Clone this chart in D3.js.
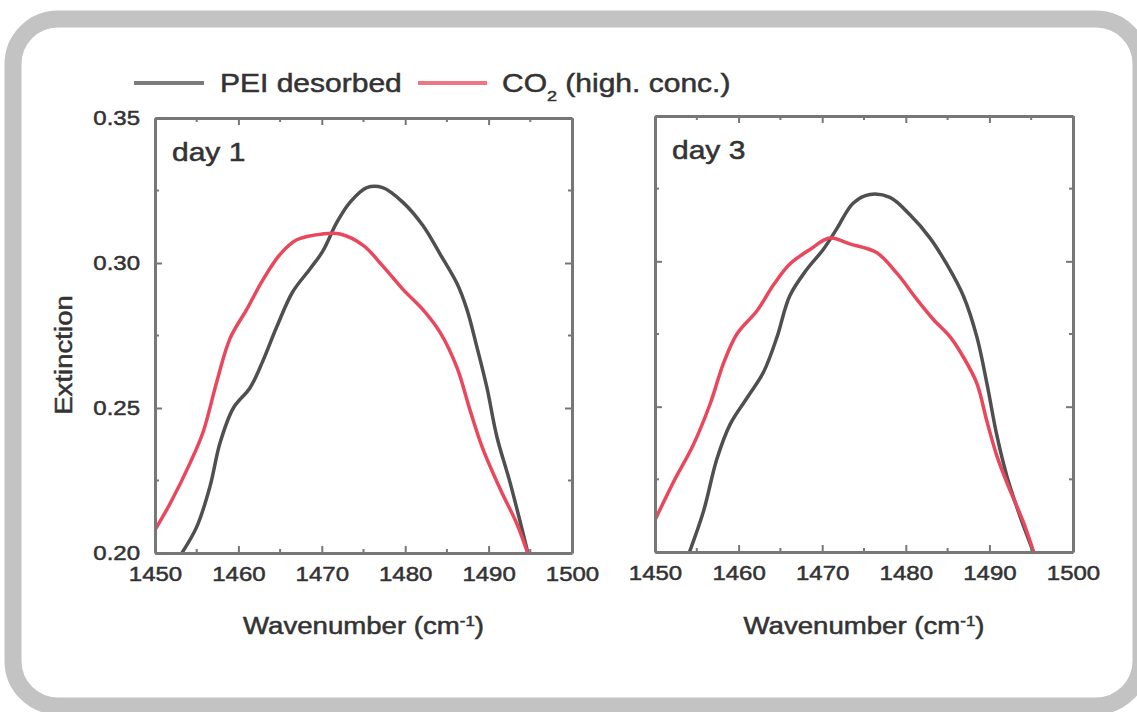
<!DOCTYPE html>
<html>
<head>
<meta charset="utf-8">
<script src="https://cdn.jsdelivr.net/npm/d3@7"></script>
<style>
  body { margin: 0; background: #fff; }
  text { font-family: "Liberation Sans", Arial, sans-serif; fill: #333; stroke: #333; stroke-width: 0.5px; }
</style>
</head>
<body>
<div class="chart"></div>
<script>
// chart size
const WIDTH = 1137;
const HEIGHT = 712;

// data
const X_TICKS = [1450, 1460, 1470, 1480, 1490, 1500];
const Y_TICKS = [0.20, 0.25, 0.30, 0.35];
const PANEL_LABELS = ["day 1", "day 3"];
const SERIES_NAMES = ["PEI desorbed", "CO2 (high. conc.)"];

const DAY1_PEI_WN = [1453.0, 1455.0, 1456.6, 1457.8, 1459.4, 1461.4, 1462.9, 1464.6, 1466.5, 1468.6, 1470.1, 1471.8, 1473.4, 1475.4, 1477.3, 1479.7, 1482.1, 1484.2, 1486.2, 1487.4, 1488.6, 1489.8, 1491.0, 1492.6, 1494.8];
const DAY1_PEI = [0.199, 0.209, 0.223, 0.238, 0.250, 0.257, 0.266, 0.278, 0.290, 0.298, 0.304, 0.314, 0.321, 0.326, 0.326, 0.321, 0.313, 0.303, 0.293, 0.284, 0.271, 0.257, 0.240, 0.224, 0.199];

const DAY1_CO2_WN = [1450.0, 1451.8, 1454.2, 1455.8, 1457.4, 1459.0, 1461.0, 1462.9, 1465.0, 1467.0, 1470.1, 1472.2, 1475.0, 1477.3, 1479.7, 1482.1, 1484.2, 1486.2, 1487.8, 1489.3, 1491.4, 1493.4, 1494.8];
const DAY1_CO2 = [0.208, 0.217, 0.231, 0.242, 0.259, 0.274, 0.284, 0.294, 0.303, 0.308, 0.310, 0.310, 0.306, 0.299, 0.291, 0.284, 0.276, 0.264, 0.249, 0.236, 0.222, 0.210, 0.199];

const DAY3_PEI_WN = [1454.0, 1455.8, 1457.4, 1459.0, 1461.0, 1463.0, 1464.6, 1466.1, 1468.1, 1470.1, 1471.7, 1473.7, 1475.7, 1478.1, 1480.5, 1482.9, 1484.9, 1486.9, 1488.5, 1489.7, 1490.9, 1492.1, 1493.7, 1495.4];
const DAY3_PEI = [0.199, 0.214, 0.232, 0.244, 0.253, 0.262, 0.274, 0.288, 0.297, 0.304, 0.311, 0.320, 0.323, 0.322, 0.316, 0.308, 0.299, 0.288, 0.274, 0.258, 0.240, 0.226, 0.212, 0.199];

const DAY3_CO2_WN = [1450.0, 1452.2, 1454.6, 1456.6, 1458.2, 1459.8, 1462.2, 1464.2, 1466.1, 1468.5, 1470.9, 1473.3, 1476.5, 1478.9, 1481.3, 1483.3, 1485.3, 1486.9, 1488.5, 1489.7, 1490.9, 1492.5, 1494.1, 1495.4];
const DAY3_CO2 = [0.211, 0.224, 0.237, 0.251, 0.265, 0.275, 0.283, 0.292, 0.299, 0.304, 0.308, 0.306, 0.303, 0.296, 0.287, 0.280, 0.274, 0.267, 0.258, 0.245, 0.233, 0.221, 0.210, 0.199];

const COLORS = ["#4f4f4f", "#e8475c"];
const STRETCH = 1.2; // the picture is a bit wider than tall

const SVG = d3
  .select(".chart")
  .append("svg")
  .attr("width", WIDTH)
  .attr("height", HEIGHT);

// rounded grey frame round everything
SVG.append("rect")
  .attr("x", 13)
  .attr("y", 19)
  .attr("width", 1128)
  .attr("height", 687)
  .attr("rx", 45)
  .attr("fill", "#fff")
  .attr("stroke", "#c3c3c3")
  .attr("stroke-width", 17);

// widen text so it fits the squashed look of the original
function widen(sel, k) {
  sel.each(function () {
    const len = this.getComputedTextLength();
    d3.select(this).attr("textLength", len * k).attr("lengthAdjust", "spacingAndGlyphs");
  });
}

const PANELS = [
  { left: 155, right: 572, top: 118, bottom: 553, label: PANEL_LABELS[0], yLabels: true,
    series: [[DAY1_PEI_WN, DAY1_PEI], [DAY1_CO2_WN, DAY1_CO2]] },
  { left: 655, right: 1073, top: 116, bottom: 552, label: PANEL_LABELS[1], yLabels: false,
    series: [[DAY3_PEI_WN, DAY3_PEI], [DAY3_CO2_WN, DAY3_CO2]] }
];

PANELS.forEach((p, i) => {
  const x = d3.scaleLinear().domain([1450, 1500]).range([p.left, p.right]);
  const y = d3.scaleLinear().domain([0.20, 0.35]).range([p.bottom, p.top]);
  const g = SVG.append("g");

  // clip the curves to the plot box
  SVG.append("clipPath").attr("id", "clip" + i)
    .append("rect")
    .attr("x", p.left).attr("y", p.top)
    .attr("width", p.right - p.left).attr("height", p.bottom - p.top);

  const line = d3.line()
    .x((d) => x(d[0]))
    .y((d) => y(d[1]))
    .curve(d3.curveCatmullRom);

  p.series.forEach((s, j) => {
    const pts = s[0].map((w, k) => [w, s[1][k]]);
    g.append("path")
      .datum(pts)
      .attr("clip-path", `url(#clip${i})`)
      .attr("fill", "none")
      .attr("stroke", COLORS[j])
      .attr("stroke-width", 3.5)
      .attr("d", line);
  });

  // minor ticks
  const xMinor = d3.range(1455, 1500, 10);
  const yMinor = [0.225, 0.275, 0.325];

  const axes = [
    { gen: d3.axisBottom(x), at: `translate(0,${p.bottom})`, labels: true },
    { gen: d3.axisTop(x), at: `translate(0,${p.top})`, labels: false },
    { gen: d3.axisLeft(y), at: `translate(${p.left},0)`, labels: p.yLabels },
    { gen: d3.axisRight(y), at: `translate(${p.right},0)`, labels: false }
  ];

  axes.forEach((a, k) => {
    const horiz = k < 2;
    const ax = g.append("g")
      .attr("transform", a.at)
      .call(a.gen
        .tickValues(horiz ? X_TICKS : Y_TICKS)
        .tickSize(-7)
        .tickSizeOuter(0)
        .tickPadding(horiz ? 14 : 15)
        .tickFormat(a.labels ? (horiz ? d3.format("d") : d3.format(".2f")) : ""));
    ax.select(".domain").attr("stroke", "#777").attr("stroke-width", 3);
    ax.selectAll(".tick line").attr("stroke", "#777").attr("stroke-width", 2);
    ax.selectAll("text")
      .style("font-size", "20px")
      .attr("fill", "#333")
      .call(widen, STRETCH);

    // minor ticks on the same side
    const mine = horiz ? xMinor : yMinor;
    const sc = horiz ? x : y;
    const sign = (k === 0 || k === 3) ? -1 : 1;
    ax.selectAll(".minor")
      .data(mine)
      .enter()
      .append("line")
      .attr("stroke", "#777")
      .attr("stroke-width", 2)
      .attr(horiz ? "x1" : "y1", (d) => sc(d))
      .attr(horiz ? "x2" : "y2", (d) => sc(d))
      .attr(horiz ? "y1" : "x1", 0)
      .attr(horiz ? "y2" : "x2", sign * 4);
  });

  g.append("text")
    .attr("x", p.left + 17)
    .attr("y", p.top + 43)
    .style("font-size", "25px")
    .text(p.label)
    .call(widen, STRETCH);

  const title = g.append("text")
    .attr("x", (p.left + p.right) / 2)
    .attr("y", 634)
    .attr("text-anchor", "middle")
    .style("font-size", "23px");
  title.append("tspan").text("Wavenumber (cm");
  title.append("tspan").attr("baseline-shift", "super").style("font-size", "14px").text("-1");
  title.append("tspan").text(")");
  widen(title, STRETCH);
});

// y axis title
SVG.append("text")
  .attr("transform", "translate(72,355) rotate(-90)")
  .attr("text-anchor", "middle")
  .style("font-size", "23px")
  .text("Extinction")
  .call(widen, STRETCH);

// legend
const LEGEND = SVG.append("g");
const legendItems = [
  { x1: 134, x2: 204, tx: 220, parts: [SERIES_NAMES[0]] },
  { x1: 418, x2: 487, tx: 502, parts: ["CO", "2", " (high. conc.)"] }
];
legendItems.forEach((it, j) => {
  LEGEND.append("line")
    .attr("x1", it.x1).attr("x2", it.x2)
    .attr("y1", 83).attr("y2", 83)
    .attr("stroke", COLORS[j])
    .attr("stroke-width", 4)
    .attr("opacity", 0.75);
  const t = LEGEND.append("text")
    .attr("x", it.tx)
    .attr("y", 92)
    .style("font-size", "25px");
  if (it.parts.length === 1) {
    t.text(it.parts[0]);
  } else {
    t.append("tspan").text(it.parts[0]);
    t.append("tspan").attr("baseline-shift", "sub").style("font-size", "15px").text(it.parts[1]);
    t.append("tspan").text(it.parts[2]);
  }
  widen(t, STRETCH);
});
</script>
</body>
</html>
